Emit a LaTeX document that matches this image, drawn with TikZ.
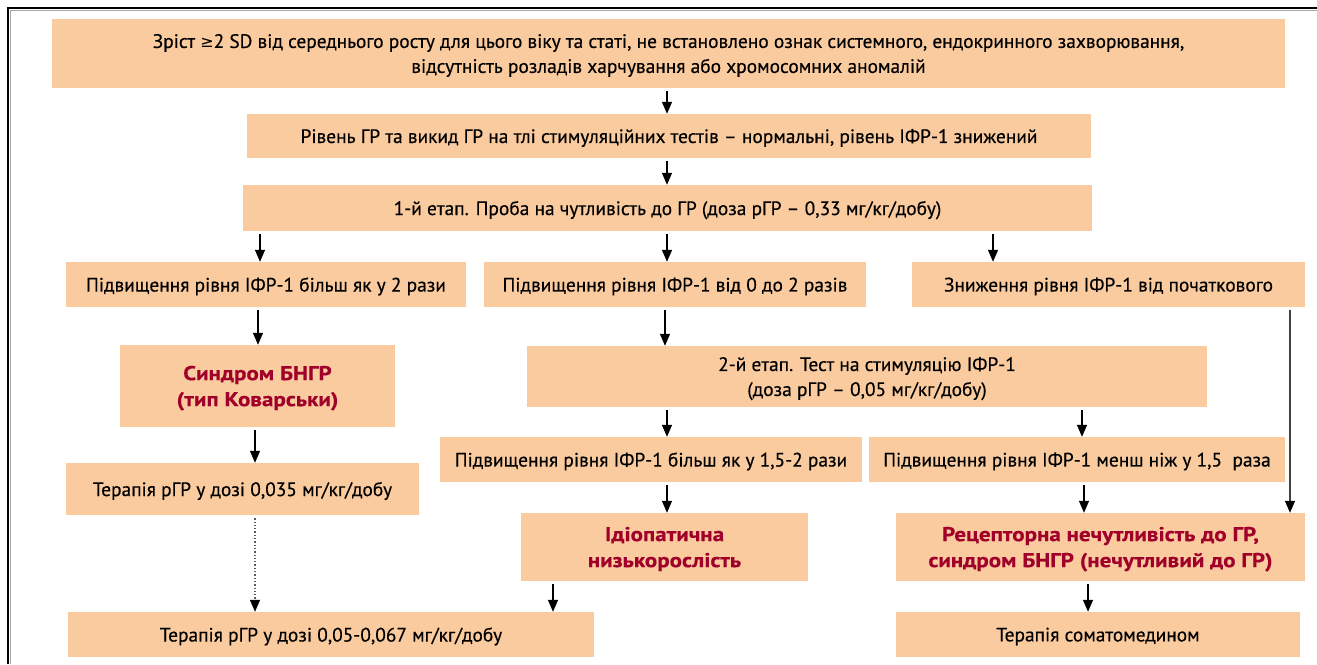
\documentclass[tikz,border=0pt]{standalone}
\usepackage{fontspec}
\setmainfont{PT Sans}[UprightFeatures={FakeBold=0.35}, BoldFeatures={FakeStretch=1.15,FakeBold=0.4}]
\newfontfamily\symfont{DejaVu Sans}
\usetikzlibrary{arrows.meta,calc}
\definecolor{peach}{RGB}{250,203,158}
\definecolor{deepred}{RGB}{160,0,42}
\begin{document}
\begin{tikzpicture}[x=1pt,y=-1pt,
  box/.style={fill=peach, inner sep=0pt, align=center, font=\fontsize{19.4}{25}\selectfont, text depth=0pt},
  redbox/.style={box, text=deepred, font=\fontsize{20}{26}\selectfont\bfseries},
  arr/.style={line width=1.3pt, -{Triangle[length=12pt,width=10pt,color=black]}, shorten <=3pt},
  dotarr/.style={arr, dotted, draw=black!65}
]
\useasboundingbox (0,0) rectangle (1317,664);
% frame
\draw[line width=1.8pt] (8,664) -- (8,8) -- (1317,8);
\draw[line width=0.8pt, black!35] (10.5,664) -- (10.5,10.5) -- (1317,10.5);

\node[box, minimum width=1233, minimum height=69] (b1) at (668.5,53.5)
  {Зріст {\symfont\fontsize{16}{25}\selectfont ≥}2 SD від середнього росту для цього віку та статі, не встановлено ознак системного, ендокринного захворювання,\\відсутність розладів харчування або хромосомних аномалій};
\node[box, minimum width=844, minimum height=44] (b2) at (669,136)
  {Рівень ГР та викид ГР на тлі стимуляційних тестів – нормальні, рівень ІФР-1 знижений};
\node[box, minimum width=849, minimum height=46] (b3) at (667.5,208)
  {1-й етап. Проба на чутливість до ГР (доза рГР – 0,33 мг/кг/добу)};
\node[box, minimum width=400, minimum height=45] (b4a) at (266,284.5)
  {Підвищення рівня ІФР-1 більш як у 2 рази};
\node[box, minimum width=382, minimum height=45] (b4b) at (675,284.5)
  {Підвищення рівня ІФР-1 від 0 до 2 разів};
\node[box, minimum width=393, minimum height=45] (b4c) at (1108.5,284.5)
  {Зниження рівня ІФР-1 від початкового};
\node[redbox, minimum width=275, minimum height=82] (b5a) at (257.5,386)
  {Синдром БНГР\\(тип Коварськи)};
\node[box, minimum width=680, minimum height=61] (b5b) at (867,376.5)
  {2-й етап. Тест на стимуляцію ІФР-1\\(доза рГР – 0,05 мг/кг/добу)};
\node[box, minimum width=353, minimum height=52] (b6a) at (242.5,489)
  {Терапія рГР у дозі 0,035 мг/кг/добу};
\node[box, minimum width=422, minimum height=45] (b6b) at (651,459.5)
  {Підвищення рівня ІФР-1 більш як у 1,5-2 рази};
\node[box, minimum width=416, minimum height=45] (b6c) at (1077,459.5)
  {Підвищення рівня ІФР-1 менш ніж у 1,5~~раза};
\node[redbox, minimum width=287, minimum height=68] (b7b) at (664.5,547)
  {Ідіопатична\\низькорослість};
\node[redbox, minimum width=409, minimum height=68] (b7c) at (1100.5,547)
  {Рецепторна нечутливість до ГР,\\синдром БНГР (нечутливий до ГР)};
\node[box, minimum width=526, minimum height=45] (b8a) at (331,634.5)
  {Терапія рГР у дозі 0,05-0,067 мг/кг/добу};
\node[box, minimum width=404, minimum height=45] (b8c) at (1098,634.5)
  {Терапія соматомедином};

\draw[arr] (b1.south -| 667,0) -- (b2.north -| 667,0);
\draw[arr] (b2.south -| 667,0) -- (b3.north -| 667,0);
\draw[arr] (b3.south -| 260,0) -- (b4a.north -| 260,0);
\draw[arr] (b3.south -| 667,0) -- (b4b.north -| 667,0);
\draw[arr] (b3.south -| 993,0) -- (b4c.north -| 993,0);
\draw[arr] (b4a.south -| 258,0) -- (b5a.north -| 258,0);
\draw[arr] (b4b.south -| 665,0) -- (b5b.north -| 665,0);
\draw[arr, draw=black!75] (b4c.south -| 1290,0) -- (b7c.north -| 1290,0);
\draw[arr] (b5a.south -| 255,0) -- (b6a.north -| 255,0);
\draw[arr] (b5b.south -| 667,0) -- (b6b.north -| 667,0);
\draw[arr] (b5b.south -| 1082,0) -- (b6c.north -| 1082,0);
\draw[arr] (b6b.south -| 667,0) -- (b7b.north -| 667,0);
\draw[arr] (b6c.south -| 1084,0) -- (b7c.north -| 1084,0);
\draw[dotarr] (b6a.south -| 255,0) -- (b8a.north -| 255,0);
\draw[arr] (b7b.south -| 553,0) -- (b8a.north -| 553,0);
\draw[arr] (b7c.south -| 1088,0) -- (b8c.north -| 1088,0);
\end{tikzpicture}
\end{document}
